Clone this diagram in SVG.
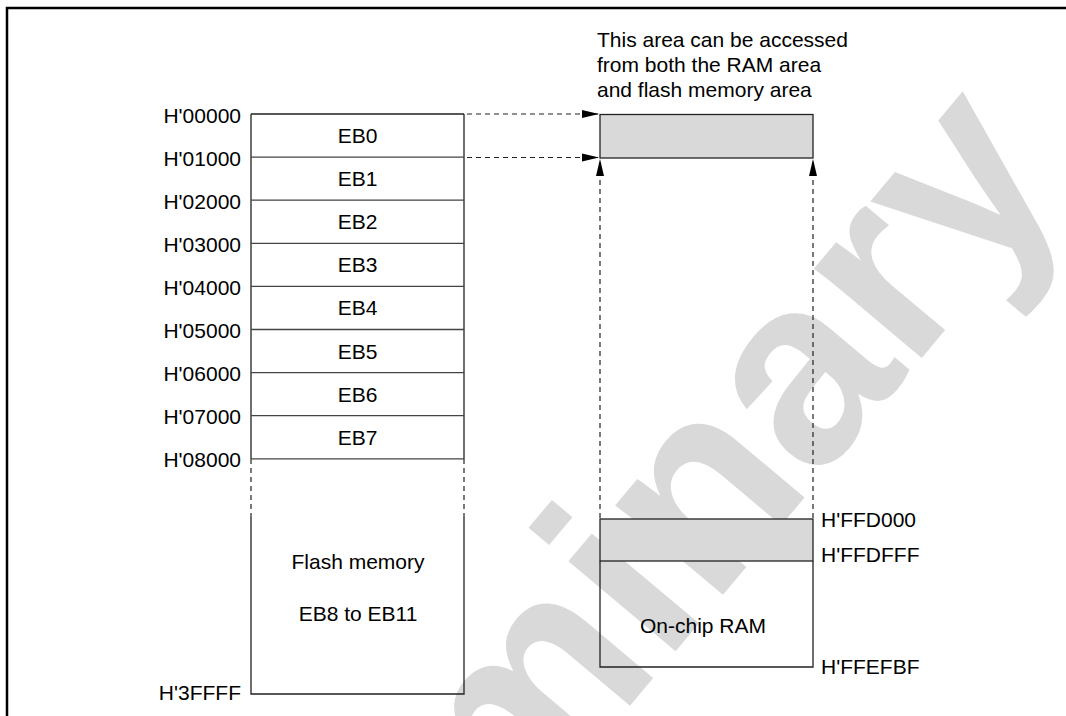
<svg xmlns="http://www.w3.org/2000/svg" width="1066" height="716" viewBox="0 0 1066 716">
<style>
.t{font-family:"Liberation Sans",Arial,sans-serif;font-size:21px;fill:#000}
.c{text-anchor:middle}
.r{text-anchor:end}
.ln{stroke:#222;stroke-width:1.3;fill:none}
.dv{stroke:#444;stroke-width:1.3;fill:none}
.ds{stroke:#222;stroke-width:1.2;fill:none;stroke-dasharray:5 4}
.gray{fill:#d9d9d9;stroke:#222;stroke-width:1.3}
.wm{font-family:"Liberation Sans",Arial,sans-serif;font-weight:bold;font-size:265px;fill:#d9d9d9}
</style>
<defs>
<marker id="ah" markerUnits="userSpaceOnUse" markerWidth="18" markerHeight="10" refX="17" refY="5" orient="auto">
<path d="M0,1 L17,5 L0,9 z" fill="#000"/>
</marker>
</defs>
<rect width="1066" height="716" fill="#fff"/>
<g id="watermark">
<text class="wm" transform="translate(143,1286) rotate(-50)">Preliminary</text>
</g>
<g id="frame">
<path d="M7,716 L7,8 L1066,8" fill="none" stroke="#000" stroke-width="2.5"/>
</g>
<g id="flash">
<path class="ln" d="M251,114 L464,114 M251,114 L251,459 M464,114 L464,459 M251,517 L251,694 L464,694 L464,517"/>
<path class="ds" d="M251,459 L251,517 M464,459 L464,517"/>
<path class="dv" d="M251,157.1 H464 M251,200.2 H464 M251,243.3 H464 M251,286.4 H464 M251,329.5 H464 M251,372.6 H464 M251,415.7 H464 M251,458.8 H464"/>
<text class="t c" x="357.5" y="143">EB0</text>
<text class="t c" x="357.5" y="186.1">EB1</text>
<text class="t c" x="357.5" y="229.2">EB2</text>
<text class="t c" x="357.5" y="272.3">EB3</text>
<text class="t c" x="357.5" y="315.4">EB4</text>
<text class="t c" x="357.5" y="358.5">EB5</text>
<text class="t c" x="357.5" y="401.6">EB6</text>
<text class="t c" x="357.5" y="444.7">EB7</text>
<text class="t c" x="358" y="569">Flash memory</text>
<text class="t c" x="358" y="621">EB8 to EB11</text>
</g>
<g id="flash-addresses">
<text class="t r" x="241" y="122.5">H'00000</text>
<text class="t r" x="241" y="165.6">H'01000</text>
<text class="t r" x="241" y="208.7">H'02000</text>
<text class="t r" x="241" y="251.8">H'03000</text>
<text class="t r" x="241" y="294.9">H'04000</text>
<text class="t r" x="241" y="338">H'05000</text>
<text class="t r" x="241" y="381.1">H'06000</text>
<text class="t r" x="241" y="424.2">H'07000</text>
<text class="t r" x="241" y="467.3">H'08000</text>
<text class="t r" x="241" y="700">H'3FFFF</text>
</g>
<g id="shared-area">
<rect class="gray" x="600" y="114.5" width="213" height="43.5"/>
<text class="t" x="597" y="47">This area can be accessed</text>
<text class="t" x="597" y="72">from both the RAM area</text>
<text class="t" x="597" y="97">and flash memory area</text>
</g>
<g id="ram">
<rect class="gray" x="600" y="519" width="213" height="42"/>
<path class="ln" d="M600,561 L600,667 L813,667 L813,561"/>
<text class="t c" x="703" y="633">On-chip RAM</text>
<text class="t" x="821" y="527">H'FFD000</text>
<text class="t" x="821" y="562">H'FFDFFF</text>
<text class="t" x="821" y="674">H'FFEFBF</text>
</g>
<g id="connectors">
<line class="ds" x1="467" y1="114" x2="599" y2="114" marker-end="url(#ah)"/>
<line class="ds" x1="467" y1="157.5" x2="599" y2="157.5" marker-end="url(#ah)"/>
<line class="ds" x1="600" y1="518" x2="600" y2="159" marker-end="url(#ah)"/>
<line class="ds" x1="813" y1="518" x2="813" y2="159" marker-end="url(#ah)"/>
</g>
</svg>
